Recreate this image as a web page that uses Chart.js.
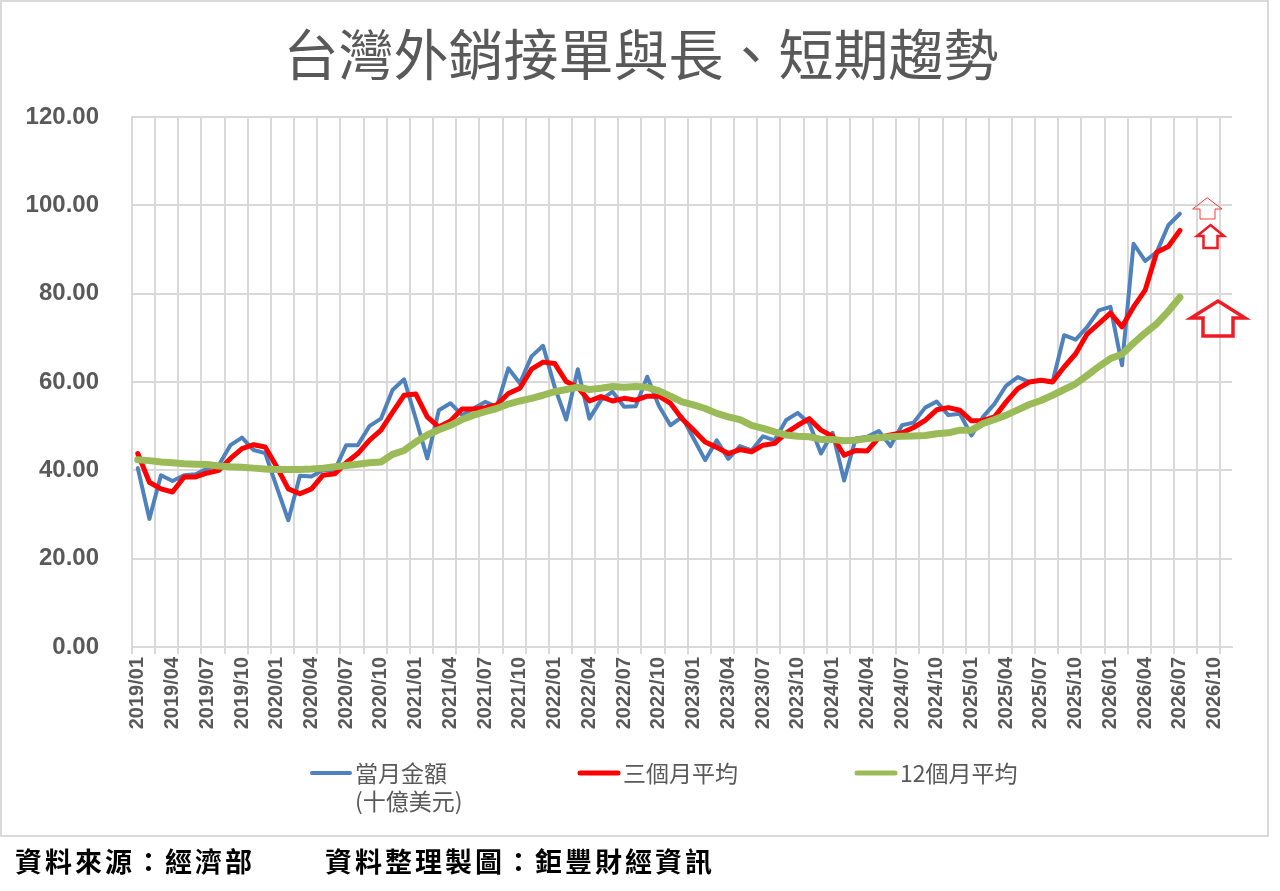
<!DOCTYPE html>
<html>
<head>
<meta charset="utf-8">
<script src="https://cdn.jsdelivr.net/npm/chart.js@4/dist/chart.umd.min.js"></script>
<style>
  html, body { margin: 0; padding: 0; background: #fff; }
  #wrap { width: 1280px; height: 891px; position: relative; }
</style>
</head>
<body>
<div id="wrap"><canvas id="trend-chart"></canvas></div>
<script>
// 月份類別 2019/01 ~ 2026/11
const months = [];
for (let y = 2019; y <= 2026; y++) {
  for (let m = 1; m <= 12; m++) {
    if (y === 2026 && m > 11) break;
    months.push(y + "/" + String(m).padStart(2, "0"));
  }
}

const seriesNames = ["當月金額\n(十億美元)", "三個月平均", "12個月平均"];

// 當月金額 (十億美元)
const monthly = [
  40.5, 29.0, 38.9, 37.6, 38.9, 39.1, 40.4, 41.2, 45.7, 47.4, 44.6, 43.9,
  36.2, 28.7, 38.8, 38.6, 40.1, 40.0, 45.7, 45.7, 50.0, 51.7, 58.2, 60.6,
  51.8, 42.7, 53.6, 55.2, 52.5, 54.0, 55.5, 54.4, 63.1, 59.7, 65.8, 68.2,
  58.9, 51.5, 62.9, 51.7, 55.9, 57.8, 54.4, 54.5, 61.2, 54.6, 50.2, 52.1,
  47.2, 42.3, 46.8, 42.6, 45.5, 44.5, 47.7, 46.8, 51.4, 53.0, 50.6, 43.8,
  48.5, 37.7, 47.2, 47.6, 48.9, 45.5, 50.2, 50.8, 54.2, 55.6, 52.5, 52.8,
  47.9, 52.1, 55.1, 59.2, 61.1, 60.0, 60.4, 60.0, 70.6, 69.6, 72.5, 76.2,
  77.0, 63.8, 91.3, 87.4, 89.4, 95.5, 98.1,
];

// 三個月平均
const avg3 = [
  43.8, 37.3, 35.8, 35.1, 38.5, 38.5, 39.4, 40.0, 42.7, 44.9, 45.8, 45.3,
  40.8, 35.8, 34.7, 35.8, 38.9, 39.2, 41.7, 43.8, 46.8, 49.1, 53.1, 57.0,
  57.3, 52.1, 49.8, 51.2, 53.9, 53.9, 54.2, 54.8, 57.4, 58.6, 62.9, 64.5,
  64.2, 60.1, 58.8, 55.7, 56.7, 55.7, 56.3, 55.9, 56.8, 56.8, 55.2, 51.7,
  49.1, 46.4, 45.2, 43.8, 44.7, 44.2, 45.7, 46.1, 48.5, 50.2, 51.7, 49.1,
  47.7, 43.4, 44.5, 44.4, 47.4, 48.0, 48.5, 49.7, 51.3, 53.7, 54.2, 53.6,
  51.2, 51.3, 52.1, 55.5, 58.5, 60.0, 60.4, 60.0, 63.4, 66.4, 70.9, 73.2,
  75.6, 72.5, 77.0, 80.8, 89.4, 90.7, 94.3,
];

// 12個月平均
const avg12 = [
  42.4, 42.2, 41.9, 41.7, 41.5, 41.4, 41.3, 41.0, 40.8, 40.7, 40.5, 40.3,
  40.2, 40.2, 40.2, 40.3, 40.5, 40.8, 41.1, 41.4, 41.7, 41.9, 43.6, 44.5,
  46.4, 48.0, 49.2, 50.2, 51.5, 52.5, 53.3, 54.0, 55.0, 55.7, 56.3, 57.0,
  57.8, 58.3, 58.8, 58.3, 58.6, 59.0, 58.8, 59.0, 58.8, 58.0, 56.8, 55.5,
  54.8, 54.0, 52.9, 52.1, 51.5, 50.2, 49.5, 48.7, 48.0, 47.7, 47.6, 47.0,
  47.0, 46.7, 46.8, 47.2, 47.4, 47.6, 47.7, 47.8, 47.9, 48.3, 48.5, 49.1,
  49.1, 50.6, 51.5, 52.5, 53.7, 54.9, 55.8, 57.0, 58.3, 59.6, 61.5, 63.5,
  65.3, 66.3, 68.8, 71.1, 73.2, 76.0, 79.2,
];

const colors = ["#4f81bd", "#ff0000", "#9bbb59"];
const widths = [4, 5, 7];

const grey = "#595959";
const gridGrey = "#d9d9d9";
const cjk = '"Noto Sans CJK TC", "Noto Sans CJK SC", sans-serif';

// 向上箭頭
function upArrow(ctx, x, y, w, h, headH, shaftW, lw) {
  const cx = x + w / 2;
  ctx.beginPath();
  ctx.moveTo(cx, y);
  ctx.lineTo(x + w, y + headH);
  ctx.lineTo(cx + shaftW / 2, y + headH);
  ctx.lineTo(cx + shaftW / 2, y + h);
  ctx.lineTo(cx - shaftW / 2, y + h);
  ctx.lineTo(cx - shaftW / 2, y + headH);
  ctx.lineTo(x, y + headH);
  ctx.closePath();
  ctx.lineWidth = lw;
  ctx.stroke();
}

const decor = {
  id: "decor",
  beforeDraw(chart) {
    const ctx = chart.ctx;
    ctx.save();
    ctx.fillStyle = "#fff";
    ctx.fillRect(0, 0, chart.width, chart.height);
    ctx.strokeStyle = gridGrey;
    ctx.lineWidth = 2;
    ctx.strokeRect(1, 1, 1267, 835);
    ctx.restore();
  },
  afterDraw(chart) {
    const ctx = chart.ctx;
    ctx.save();
    // 標題
    ctx.fillStyle = grey;
    ctx.font = "55px " + cjk;
    ctx.textAlign = "center";
    ctx.textBaseline = "middle";
    ctx.fillText("台灣外銷接單與長、短期趨勢", 641, 54);

    // 圖例
    const legendX = [310, 578, 855];
    ctx.textAlign = "left";
    ctx.font = "23px " + cjk;
    chart.data.datasets.forEach((ds, i) => {
      const x = legendX[i];
      ctx.strokeStyle = ds.borderColor;
      ctx.lineWidth = Math.min(ds.borderWidth, 5);
      ctx.lineCap = "round";
      ctx.beginPath();
      ctx.moveTo(x + 2, 773);
      ctx.lineTo(x + 40, 773);
      ctx.stroke();
      ctx.fillStyle = grey;
      ds.label.split("\n").forEach((line, k) => {
        ctx.fillText(line, x + 45, 773 + k * 28);
      });
    });

    // 資料來源
    ctx.fillStyle = "#000";
    ctx.font = "bold 27px " + cjk;
    ctx.letterSpacing = "3px";
    ctx.textBaseline = "middle";
    ctx.fillText("資料來源：經濟部", 15, 862);
    ctx.fillText("資料整理製圖：鉅豐財經資訊", 325, 862);
    ctx.letterSpacing = "0px";

    // 箭頭
    ctx.strokeStyle = "#ff3b3b";
    ctx.lineJoin = "miter";
    upArrow(ctx, 1193, 198, 29, 21, 11, 15, 1);
    ctx.strokeStyle = "#ee1c25";
    upArrow(ctx, 1197, 225, 27, 23, 11, 14, 2.5);
    upArrow(ctx, 1191, 301, 54, 35, 17, 30, 3.5);
    ctx.restore();
  },
};

new Chart(document.getElementById("trend-chart"), {
  type: "line",
  data: {
    labels: months,
    datasets: [monthly, avg3, avg12].map((d, i) => ({
      label: seriesNames[i],
      data: d,
      borderColor: colors[i],
      backgroundColor: colors[i],
      borderWidth: widths[i],
      pointRadius: 0,
      tension: 0,
      fill: false,
      borderJoinStyle: "round",
      borderCapStyle: "round",
      order: 3 - i,
    })),
  },
  options: {
    responsive: true,
    maintainAspectRatio: false,
    animation: false,
    layout: { padding: { left: 0, right: 48, top: 117, bottom: 134 } },
    plugins: {
      legend: { display: false },
      title: { display: false },
      tooltip: { enabled: false },
    },
    scales: {
      x: {
        type: "category",
        offset: true,
        grid: {
          offset: true,
          lineWidth: 2,
          tickLength: 7,
          color: (c) => (c.index % 2 === 0 ? gridGrey : "rgba(0,0,0,0)"),
        },
        border: { color: gridGrey, width: 2 },
        ticks: {
          autoSkip: false,
          minRotation: 90,
          maxRotation: 90,
          padding: 3,
          color: grey,
          font: { family: '"Liberation Sans", Arial, sans-serif', size: 20, weight: "bold" },
          callback: function (val, idx) {
            return idx % 3 === 0 ? this.getLabelForValue(val) : "";
          },
        },
        afterFit: (s) => { s.height = 110; },
      },
      y: {
        min: 0,
        max: 120,
        grid: { color: gridGrey, lineWidth: 2, drawTicks: false },
        border: { color: gridGrey, width: 2 },
        ticks: {
          stepSize: 20,
          padding: 33,
          color: grey,
          font: { family: '"Liberation Sans", Arial, sans-serif', size: 24, weight: "bold" },
          callback: (v) => v.toFixed(2),
        },
        afterFit: (s) => { s.width = 132; },
      },
    },
  },
  plugins: [decor],
});
</script>
</body>
</html>
